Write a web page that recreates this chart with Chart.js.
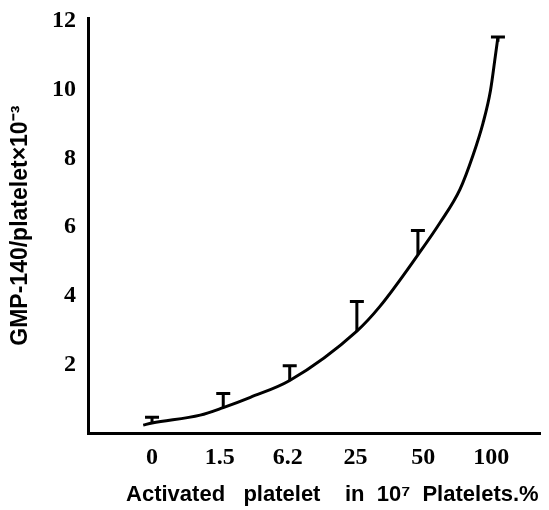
<!DOCTYPE html>
<html>
<head>
<meta charset="utf-8">
<script src="https://cdn.jsdelivr.net/npm/chart.js@4.4.1/dist/chart.umd.min.js"></script>
<style>
  html, body { margin: 0; padding: 0; background: #fff; }
  #wrap { width: 549px; height: 510px; }
</style>
</head>
<body>
<div id="wrap"><canvas id="myChart"></canvas></div>
<script>
// categories (x positions 0..5 on the axis)
const xLabels = ['0', '1.5', '6.2', '25', '50', '100'];
const yTicks = [2, 4, 6, 8, 10, 12];

// fitted curve
const curveX = [-0.13, 0, 0.71, 1.05, 1.45, 2.03, 3.02, 3.36, 3.92, 4.25, 4.54, 4.73, 4.88, 4.99, 5.06, 5.1];
const curveY = [0.23, 0.29, 0.52, 0.74, 1.04, 1.53, 2.97, 3.69, 5.19, 6.14, 7.1, 8.08, 9.03, 9.98, 10.96, 11.54];

// error bars: position, lower end (on the curve), upper end
const barX = [0, 1.05, 2.03, 3.02, 3.92, 5.1];
const barLow = [0.29, 0.74, 1.53, 2.97, 5.19, 11.4];
const barHigh = [0.46, 1.15, 1.96, 3.83, 5.9, 11.54];

const errorBars = {
    id: 'errorBars',
    afterDatasetsDraw(chart) {
        const ctx = chart.ctx;
        const xs = chart.scales.x, ys = chart.scales.y;
        ctx.save();
        ctx.strokeStyle = '#000';
        ctx.lineWidth = 3;
        for (let i = 0; i < barX.length; i++) {
            const px = xs.getPixelForValue(barX[i]);
            const y1 = ys.getPixelForValue(barLow[i]);
            const y2 = ys.getPixelForValue(barHigh[i]);
            ctx.beginPath();
            ctx.moveTo(px, y1);
            ctx.lineTo(px, y2);
            ctx.moveTo(px - 7, y2);
            ctx.lineTo(px + 7, y2);
            ctx.stroke();
        }
        ctx.restore();
    }
};

const tickFont = { family: '"Liberation Serif", serif', size: 24, weight: 'bold' };
const titleFont = { family: '"Liberation Sans", Arial, sans-serif', size: 22, weight: 'bold' };

new Chart(document.getElementById('myChart'), {
    type: 'line',
    data: {
        datasets: [{
            data: curveX.map((x, i) => ({ x: x, y: curveY[i] })),
            borderColor: '#000',
            borderWidth: 3,
            pointRadius: 0,
            fill: false,
            cubicInterpolationMode: 'monotone'
        }]
    },
    options: {
        responsive: true,
        maintainAspectRatio: false,
        animation: false,
        layout: { padding: { top: 0, right: 9, left: 0, bottom: 0 } },
        plugins: { legend: { display: false }, tooltip: { enabled: false } },
        scales: {
            x: {
                type: 'linear',
                min: -0.944,
                max: 5.72,
                afterBuildTicks: s => { s.ticks = xLabels.map((l, i) => ({ value: i })); },
                afterFit: s => { s.height = 77; },
                grid: { display: false },
                border: { display: true, color: '#000', width: 3 },
                ticks: {
                    color: '#000',
                    font: tickFont,
                    padding: 2,
                    maxRotation: 0,
                    autoSkip: false,
                    callback: v => xLabels[v]
                },
                title: {
                    display: true,
                    text: '      Activated   platelet    in  10\u2077  Platelets.%',
                    color: '#000',
                    font: titleFont,
                    padding: { top: 0, bottom: 2 }
                }
            },
            y: {
                min: 0,
                max: 12.08,
                afterBuildTicks: s => { s.ticks = yTicks.map(v => ({ value: v })); },
                afterFit: s => { s.width = 88; },
                grid: { display: false },
                border: { display: true, color: '#000', width: 3 },
                ticks: {
                    color: '#000',
                    font: tickFont,
                    padding: 4
                },
                title: {
                    display: true,
                    text: 'GMP-140/platelet\u00d710\u207b\u00b3',
                    color: '#000',
                    font: { family: titleFont.family, size: 23, weight: 'bold' },
                    padding: { top: 7, bottom: 0 }
                }
            }
        }
    },
    plugins: [errorBars]
});
</script>
</body>
</html>
